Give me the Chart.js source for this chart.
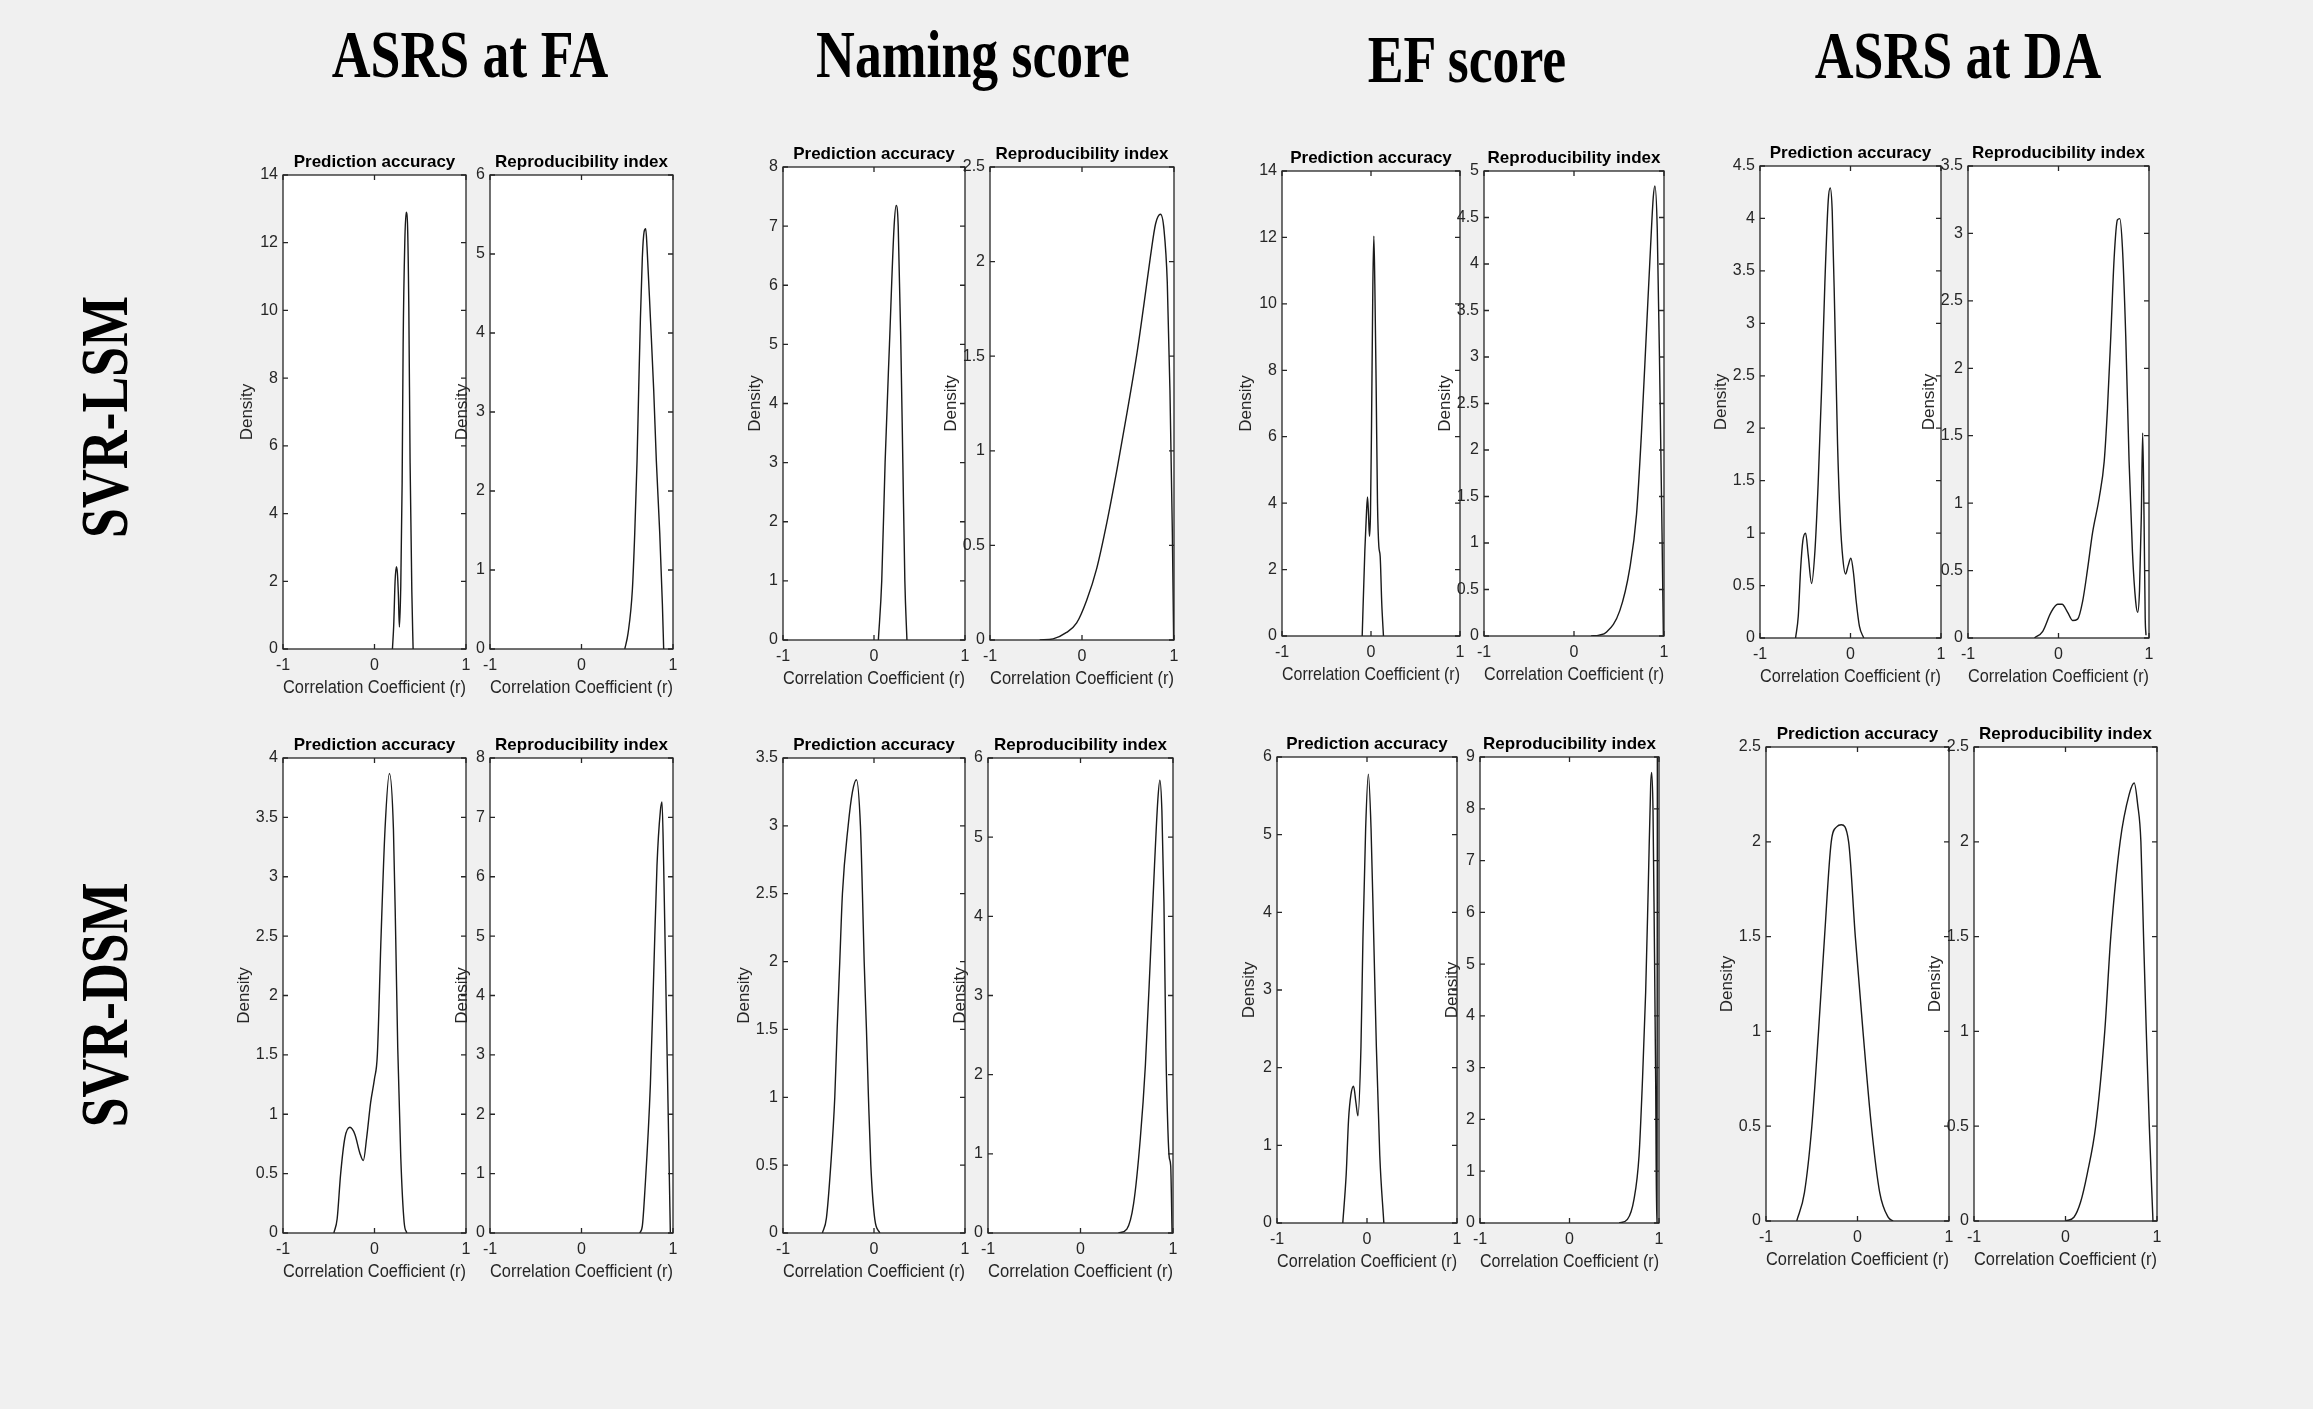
<!DOCTYPE html>
<html>
<head>
<meta charset="utf-8">
<script src="https://cdn.jsdelivr.net/npm/chart.js@4.4.0/dist/chart.umd.min.js"></script>
<style>
    body {
        margin: 0;
        width: 2313px;
        height: 1409px;
        background: #f0f0f0;
        position: relative;
        overflow: hidden;
    }
    .col-head, .row-head {
        position: absolute;
        font: bold 68px "Liberation Serif", "Times New Roman", serif;
        line-height: 1;
        white-space: nowrap;
        color: #000;
    }
    .col-head { transform: translate(-50%, -50%) scaleX(0.79); }
    .row-head { transform: translate(-50%, -50%) rotate(-90deg) scaleX(0.79); }
    .panel { position: absolute; }
</style>
</head>
<body>
<script>
const measures = ['ASRS at FA', 'Naming score', 'EF score', 'ASRS at DA'];
const models = ['SVR-LSM', 'SVR-DSM'];
const panelTitles = ['Prediction accuracy', 'Reproducibility index'];
const xTickValues = [-1, 0, 1];

// SVR-LSM densities
const lsmFaAccX = [0.196, 0.21, 0.225, 0.239, 0.25, 0.261, 0.272, 0.287, 0.302, 0.313, 0.331, 0.346, 0.36, 0.375, 0.389, 0.408, 0.422];
const lsmFaAccY = [0, 0.7, 2.0, 2.43, 2.25, 1.6, 0.65, 1.84, 4.9, 9.0, 12.0, 12.9, 12.6, 10.1, 5.5, 1.7, 0];
const lsmFaRepX = [0.473, 0.509, 0.556, 0.582, 0.607, 0.625, 0.644, 0.665, 0.684, 0.702, 0.716, 0.753, 0.789, 0.818, 0.855, 0.884, 0.898];
const lsmFaRepY = [0, 0.2, 0.75, 1.47, 2.38, 3.28, 4.19, 4.96, 5.28, 5.32, 5.09, 4.19, 3.28, 2.38, 1.47, 0.57, 0];
const lsmNamAccX = [0.048, 0.085, 0.122, 0.17, 0.221, 0.244, 0.266, 0.295, 0.317, 0.339, 0.362];
const lsmNamAccY = [0, 1, 3, 5, 7, 7.35, 7, 5, 3, 1, 0];
const lsmNamRepX = [-0.46, -0.314, -0.168, -0.058, 0.051, 0.161, 0.27, 0.38, 0.489, 0.599, 0.672, 0.745, 0.8, 0.854, 0.891, 0.927, 0.956, 0.982, 0.996];
const lsmNamRepY = [0, 0.006, 0.04, 0.09, 0.21, 0.38, 0.62, 0.9, 1.2, 1.52, 1.77, 2.03, 2.2, 2.25, 2.17, 1.89, 1.32, 0.57, 0];
const lsmEfAccX = [-0.099, -0.069, -0.05, -0.039, -0.028, -0.017, -0.006, 0.006, 0.021, 0.032, 0.043, 0.058, 0.073, 0.088, 0.103, 0.121, 0.14];
const lsmEfAccY = [0, 2.58, 3.76, 4.19, 3.66, 3.0, 3.66, 6.34, 10.6, 12.04, 10.6, 7.5, 4.0, 2.7, 2.4, 0.97, 0];
const lsmEfRepX = [0.19, 0.28, 0.359, 0.508, 0.62, 0.695, 0.75, 0.806, 0.851, 0.881, 0.899, 0.925, 0.955, 0.978, 0.993];
const lsmEfRepY = [0, 0.01, 0.04, 0.27, 0.73, 1.31, 2.19, 3.3, 4.19, 4.72, 4.84, 4.38, 2.65, 1.11, 0];
const lsmDaAccX = [-0.607, -0.577, -0.551, -0.526, -0.496, -0.467, -0.43, -0.393, -0.357, -0.32, -0.283, -0.246, -0.224, -0.202, -0.173, -0.143, -0.114, -0.085, -0.055, -0.026, 0.004, 0.033, 0.063, 0.099, 0.147];
const lsmDaAccY = [0, 0.21, 0.66, 0.93, 1.0, 0.79, 0.52, 0.83, 1.48, 2.36, 3.39, 4.17, 4.29, 4.07, 3.04, 1.85, 1.14, 0.76, 0.61, 0.69, 0.76, 0.62, 0.35, 0.11, 0];
const lsmDaRepX = [-0.266, -0.174, -0.083, -0.009, 0.039, 0.101, 0.156, 0.211, 0.266, 0.321, 0.376, 0.45, 0.505, 0.541, 0.578, 0.615, 0.651, 0.677, 0.706, 0.743, 0.78, 0.817, 0.853, 0.875, 0.895, 0.915, 0.93, 0.945, 0.958, 0.967];
const lsmDaRepY = [0, 0.05, 0.19, 0.25, 0.25, 0.19, 0.13, 0.14, 0.27, 0.51, 0.78, 1.04, 1.31, 1.7, 2.24, 2.82, 3.1, 3.11, 2.9, 2.24, 1.31, 0.64, 0.27, 0.19, 0.35, 0.9, 1.52, 0.9, 0.15, 0.02];

// SVR-DSM densities
const dsmFaAccX = [-0.444, -0.408, -0.371, -0.324, -0.269, -0.214, -0.159, -0.122, -0.086, -0.042, 0.0, 0.031, 0.071, 0.115, 0.163, 0.207, 0.232, 0.254, 0.287, 0.324, 0.353];
const dsmFaAccY = [0, 0.12, 0.49, 0.8, 0.89, 0.83, 0.67, 0.61, 0.8, 1.1, 1.3, 1.5, 2.48, 3.4, 3.87, 3.4, 2.48, 1.56, 0.64, 0.09, 0];
const dsmFaRepX = [0.636, 0.665, 0.691, 0.753, 0.789, 0.825, 0.862, 0.88, 0.898, 0.927, 0.956, 0.971];
const dsmFaRepY = [0, 0.12, 0.67, 2.51, 4.35, 6.19, 7.11, 7.26, 6.19, 3.74, 1.29, 0];
const dsmNamAccX = [-0.567, -0.523, -0.475, -0.431, -0.405, -0.376, -0.347, -0.284, -0.237, -0.193, -0.149, -0.127, -0.108, -0.083, -0.061, -0.035, 0.009, 0.064];
const dsmNamAccY = [0, 0.11, 0.5, 1.0, 1.5, 2.0, 2.5, 3.0, 3.25, 3.34, 3.0, 2.5, 2.0, 1.5, 1.0, 0.5, 0.1, 0];
const dsmNamRepX = [0.41, 0.501, 0.574, 0.647, 0.701, 0.756, 0.8, 0.836, 0.858, 0.88, 0.902, 0.923, 0.945, 0.96, 0.975, 0.99];
const dsmNamRepY = [0, 0.05, 0.37, 1.2, 2.11, 3.49, 4.64, 5.47, 5.72, 5.33, 4.18, 2.34, 1.3, 0.95, 0.85, 0];
const dsmEfAccX = [-0.269, -0.231, -0.205, -0.179, -0.149, -0.123, -0.101, -0.067, -0.045, -0.015, 0.015, 0.045, 0.075, 0.104, 0.142, 0.187];
const dsmEfAccY = [0, 0.63, 1.33, 1.65, 1.76, 1.55, 1.38, 2.27, 3.67, 5.08, 5.78, 5.08, 3.67, 2.27, 0.87, 0];
const dsmEfRepX = [0.554, 0.647, 0.721, 0.777, 0.814, 0.851, 0.881, 0.907, 0.918, 0.933, 0.948, 0.963, 0.974, 0.978, 0.982];
const dsmEfRepY = [0, 0.07, 0.46, 1.3, 2.7, 4.46, 6.56, 8.46, 8.7, 7.97, 5.51, 2.7, 0, 0, 10];
const dsmDaAccX = [-0.664, -0.58, -0.499, -0.426, -0.36, -0.287, -0.225, -0.177, -0.097, -0.024, 0.06, 0.152, 0.243, 0.335, 0.389];
const dsmDaAccY = [0, 0.15, 0.5, 1.0, 1.5, 2.0, 2.08, 2.09, 2.0, 1.5, 1.0, 0.5, 0.15, 0.02, 0];
const dsmDaRepX = [0.0, 0.092, 0.165, 0.238, 0.33, 0.429, 0.495, 0.597, 0.696, 0.751, 0.788, 0.824, 0.853, 0.883, 0.916, 0.956];
const dsmDaRepY = [0, 0.02, 0.1, 0.25, 0.5, 1.0, 1.5, 2.0, 2.25, 2.31, 2.2, 2.0, 1.5, 1.0, 0.5, 0];

// y axis limits and tick steps, per measure
const lsmAccMax = [14, 8, 14, 4.5];
const lsmAccStep = [2, 1, 2, 0.5];
const lsmRepMax = [6, 2.5, 5, 3.5];
const lsmRepStep = [1, 0.5, 0.5, 0.5];
const dsmAccMax = [4, 3.5, 6, 2.5];
const dsmAccStep = [0.5, 0.5, 1, 0.5];
const dsmRepMax = [8, 6, 9, 2.5];
const dsmRepStep = [1, 1, 1, 0.5];

// plot boxes on the page: [left, top, right, bottom]
const lsmBoxes = [
    [283, 175, 466, 649], [490, 175, 673, 649],
    [783, 167, 965, 640], [990, 167, 1174, 640],
    [1282, 171, 1460, 636], [1484, 171, 1664, 636],
    [1760, 166, 1941, 638], [1968, 166, 2149, 638]
];
const dsmBoxes = [
    [283, 758, 466, 1233], [490, 758, 673, 1233],
    [783, 758, 965, 1233], [988, 758, 1173, 1233],
    [1277, 757, 1457, 1223], [1480, 757, 1659, 1223],
    [1766, 747, 1949, 1221], [1974, 747, 2157, 1221]
];
const headCenters = [[470, 54], [973, 54], [1467, 59], [1958, 55]];
const rowCenters = [[104, 417], [104, 1005]];

const INK = '#262626';
const SANS = '"Liberation Sans", Arial, sans-serif';

// white plot area, full box and inward ticks like MATLAB
const matlabAxes = {
    id: 'matlabAxes',
    beforeDraw(chart) {
        const a = chart.chartArea;
        const ctx = chart.ctx;
        ctx.save();
        ctx.fillStyle = '#ffffff';
        ctx.fillRect(a.left, a.top, a.right - a.left, a.bottom - a.top);
        ctx.restore();
    },
    afterDatasetsDraw(chart) {
        const a = chart.chartArea;
        const ctx = chart.ctx;
        const sx = chart.scales.x;
        const sy = chart.scales.y;
        ctx.save();
        ctx.strokeStyle = INK;
        ctx.lineWidth = 1.3;
        ctx.strokeRect(a.left, a.top, a.right - a.left, a.bottom - a.top);
        ctx.beginPath();
        sx.ticks.forEach(t => {
            const p = sx.getPixelForValue(t.value);
            ctx.moveTo(p, a.bottom); ctx.lineTo(p, a.bottom - 5);
            ctx.moveTo(p, a.top); ctx.lineTo(p, a.top + 5);
        });
        sy.ticks.forEach(t => {
            const p = sy.getPixelForValue(t.value);
            ctx.moveTo(a.left, p); ctx.lineTo(a.left + 5, p);
            ctx.moveTo(a.right, p); ctx.lineTo(a.right - 5, p);
        });
        ctx.stroke();
        ctx.restore();
    }
};

function addText(cls, text, c) {
    const d = document.createElement('div');
    d.className = cls;
    d.textContent = text;
    d.style.left = c[0] + 'px';
    d.style.top = c[1] + 'px';
    document.body.appendChild(d);
}

function makePanel(box, xs, ys, yMax, yStep, title) {
    const [l, t, r, b] = box;
    const w = r - l, h = b - t;
    const div = document.createElement('div');
    div.className = 'panel';
    div.style.left = (l - 60) + 'px';
    div.style.top = (t - 30) + 'px';
    const canvas = document.createElement('canvas');
    canvas.width = w + 120;
    canvas.height = h + 90;
    canvas.style.width = (w + 120) + 'px';
    canvas.style.height = (h + 90) + 'px';
    div.appendChild(canvas);
    document.body.appendChild(div);

    // "Density" sits further out when tick labels are wider
    let dist = 28;
    if (yStep < 1) dist = 39;
    else if (yMax >= 10) dist = 36;

    new Chart(canvas.getContext('2d'), {
        type: 'line',
        data: {
            datasets: [{
                data: xs.map((x, i) => ({ x: x, y: ys[i] })),
                borderColor: '#1a1a1a',
                borderWidth: 1.4,
                pointRadius: 0,
                fill: false,
                cubicInterpolationMode: 'monotone'
            }]
        },
        options: {
            responsive: false,
            animation: false,
            devicePixelRatio: 1,
            layout: { padding: { left: 0, right: 60, top: 9, bottom: 0 } },
            plugins: {
                legend: { display: false },
                tooltip: { enabled: false },
                title: {
                    display: true,
                    text: title,
                    fullSize: false,
                    color: '#000',
                    font: { family: SANS, size: 17, weight: 'bold', lineHeight: 1 },
                    padding: { top: 0, bottom: 4 }
                }
            },
            scales: {
                x: {
                    type: 'linear',
                    min: -1,
                    max: 1,
                    afterFit: s => { s.height = 60; },
                    afterBuildTicks: s => { s.ticks = xTickValues.map(v => ({ value: v })); },
                    grid: { display: false, drawTicks: false },
                    border: { display: false },
                    ticks: {
                        color: INK,
                        font: { family: SANS, size: 16 },
                        padding: 7,
                        maxRotation: 0,
                        autoSkip: false,
                        callback: v => String(v)
                    },
                    title: {
                        display: true,
                        text: 'Correlation Coefficient (r)',
                        color: INK,
                        font: { family: SANS, size: 17.5 },
                        padding: { top: 0, bottom: 10.5 }
                    }
                },
                y: {
                    min: 0,
                    max: yMax,
                    afterFit: s => { s.width = 60; },
                    grid: { display: false, drawTicks: false },
                    border: { display: false },
                    ticks: {
                        stepSize: yStep,
                        color: INK,
                        font: { family: SANS, size: 16 },
                        padding: 5,
                        autoSkip: false,
                        callback: v => String(Math.round(v * 100) / 100)
                    },
                    title: {
                        display: true,
                        text: 'Density',
                        color: INK,
                        font: { family: SANS, size: 17 },
                        padding: { top: 60 - dist - 10.2, bottom: 0 }
                    }
                }
            }
        },
        plugins: [matlabAxes]
    });
}

measures.forEach((m, i) => addText('col-head', m, headCenters[i]));
models.forEach((m, i) => addText('row-head', m, rowCenters[i]));

const lsmData = [
    [lsmFaAccX, lsmFaAccY, lsmFaRepX, lsmFaRepY],
    [lsmNamAccX, lsmNamAccY, lsmNamRepX, lsmNamRepY],
    [lsmEfAccX, lsmEfAccY, lsmEfRepX, lsmEfRepY],
    [lsmDaAccX, lsmDaAccY, lsmDaRepX, lsmDaRepY]
];
const dsmData = [
    [dsmFaAccX, dsmFaAccY, dsmFaRepX, dsmFaRepY],
    [dsmNamAccX, dsmNamAccY, dsmNamRepX, dsmNamRepY],
    [dsmEfAccX, dsmEfAccY, dsmEfRepX, dsmEfRepY],
    [dsmDaAccX, dsmDaAccY, dsmDaRepX, dsmDaRepY]
];

for (let i = 0; i < 4; i++) {
    const a = lsmData[i];
    makePanel(lsmBoxes[2 * i], a[0], a[1], lsmAccMax[i], lsmAccStep[i], panelTitles[0]);
    makePanel(lsmBoxes[2 * i + 1], a[2], a[3], lsmRepMax[i], lsmRepStep[i], panelTitles[1]);
    const d = dsmData[i];
    makePanel(dsmBoxes[2 * i], d[0], d[1], dsmAccMax[i], dsmAccStep[i], panelTitles[0]);
    makePanel(dsmBoxes[2 * i + 1], d[2], d[3], dsmRepMax[i], dsmRepStep[i], panelTitles[1]);
}
</script>
</body>
</html>
